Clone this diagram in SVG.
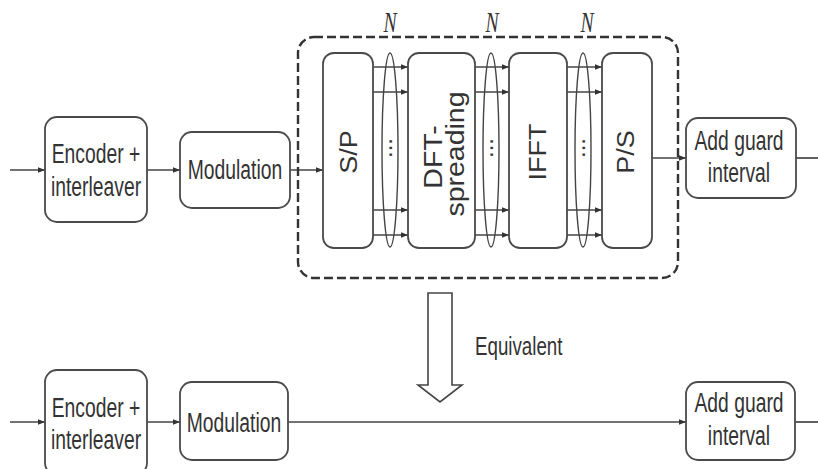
<svg xmlns="http://www.w3.org/2000/svg" width="818" height="469" viewBox="0 0 818 469">
<style>
.box{fill:#fff;stroke:#4a4a4a;stroke-width:1.8}
.lbl{font-family:"Liberation Sans",Arial,sans-serif;font-size:28px;fill:#333;text-anchor:middle}
.rot{font-family:"Liberation Sans",Arial,sans-serif;font-size:27px;fill:#333;text-anchor:middle}
.line{stroke:#444;stroke-width:1.7;fill:none}
.ell{stroke:#444;stroke-width:1.4;fill:none}
.n{font-family:"Liberation Serif","Times New Roman",serif;font-style:italic;font-size:29px;fill:#333;text-anchor:middle}
</style>
<defs>
<marker id="ah" viewBox="0 0 10 10" refX="10" refY="5" markerWidth="7" markerHeight="7" markerUnits="userSpaceOnUse" orient="auto">
<path d="M0,1 L10,5 L0,9 z" fill="#333"/>
</marker>
</defs>
<rect width="818" height="469" fill="#fff"/>
<g id="connectors">
<line class="line" x1="10" y1="170" x2="45" y2="170" marker-end="url(#ah)"/>
<line class="line" x1="147" y1="170" x2="180" y2="170" marker-end="url(#ah)"/>
<line class="line" x1="290" y1="170" x2="323" y2="170" marker-end="url(#ah)"/>
<line class="line" x1="652" y1="158" x2="686" y2="158" marker-end="url(#ah)"/>
<line class="line" x1="796" y1="158" x2="818" y2="158"/>
<g id="parallel">
<line class="line" x1="373" y1="67" x2="408" y2="67" marker-end="url(#ah)"/>
<line class="line" x1="373" y1="92" x2="408" y2="92" marker-end="url(#ah)"/>
<line class="line" x1="373" y1="210" x2="408" y2="210" marker-end="url(#ah)"/>
<line class="line" x1="373" y1="235" x2="408" y2="235" marker-end="url(#ah)"/>
<line class="line" x1="475" y1="67" x2="509" y2="67" marker-end="url(#ah)"/>
<line class="line" x1="475" y1="92" x2="509" y2="92" marker-end="url(#ah)"/>
<line class="line" x1="475" y1="210" x2="509" y2="210" marker-end="url(#ah)"/>
<line class="line" x1="475" y1="235" x2="509" y2="235" marker-end="url(#ah)"/>
<line class="line" x1="567" y1="67" x2="602" y2="67" marker-end="url(#ah)"/>
<line class="line" x1="567" y1="92" x2="602" y2="92" marker-end="url(#ah)"/>
<line class="line" x1="567" y1="210" x2="602" y2="210" marker-end="url(#ah)"/>
<line class="line" x1="567" y1="235" x2="602" y2="235" marker-end="url(#ah)"/>
</g>
<line class="line" x1="10" y1="422" x2="45" y2="422" marker-end="url(#ah)"/>
<line class="line" x1="147" y1="422" x2="180" y2="422" marker-end="url(#ah)"/>
<line class="line" x1="288" y1="422" x2="686" y2="422" marker-end="url(#ah)"/>
<line class="line" x1="795" y1="422" x2="818" y2="422"/>
</g>
<g id="dft-block">
<rect x="298" y="37" width="380" height="241" rx="16" fill="none" stroke="#333" stroke-width="2.4" stroke-dasharray="9,4"/>
</g>
<g id="encoder1"><rect class="box" x="45" y="117" width="102" height="105" rx="12"/>
<text class="lbl" transform="translate(96,163) scale(0.69,1)">Encoder +</text>
<text class="lbl" transform="translate(96,196) scale(0.69,1)">interleaver</text></g>
<g id="modulation1"><rect class="box" x="180" y="132" width="110" height="76" rx="12"/>
<text class="lbl" transform="translate(235,179) scale(0.69,1)">Modulation</text></g>
<g id="sp"><rect class="box" x="323" y="53" width="50" height="195" rx="11"/>
<text class="rot" transform="translate(357,152) rotate(-90) scale(1,0.88)">S/P</text></g>
<g id="dft"><rect class="box" x="408" y="53" width="67" height="195" rx="11"/>
<text class="rot" style="font-size:28.5px" transform="translate(442,157) rotate(-90) scale(1,0.88)">DFT-</text>
<text class="rot" style="font-size:28.5px" transform="translate(464,154) rotate(-90) scale(1,0.88)">spreading</text></g>
<g id="ifft"><rect class="box" x="509" y="53" width="58" height="195" rx="11"/>
<text class="rot" transform="translate(546,152) rotate(-90) scale(1,0.88)">IFFT</text></g>
<g id="ps"><rect class="box" x="602" y="53" width="50" height="195" rx="11"/>
<text class="rot" transform="translate(634,152) rotate(-90) scale(1,0.88)">P/S</text></g>
<g id="bundles">
<ellipse class="ell" cx="390" cy="150" rx="8" ry="97"/>
<ellipse class="ell" cx="491" cy="150" rx="8" ry="97"/>
<ellipse class="ell" cx="583" cy="150" rx="8" ry="97"/>
<text class="rot" style="font-size:24px" transform="translate(392,148) rotate(-90)">...</text>
<text class="rot" style="font-size:24px" transform="translate(493,148) rotate(-90)">...</text>
<text class="rot" style="font-size:24px" transform="translate(585,148) rotate(-90)">...</text>
<text class="n" transform="translate(390,32) scale(0.68,1)">N</text>
<text class="n" transform="translate(492,32) scale(0.68,1)">N</text>
<text class="n" transform="translate(587,32) scale(0.68,1)">N</text>
</g>
<g id="guard1"><rect class="box" x="686" y="118" width="110" height="80" rx="12"/>
<text class="lbl" transform="translate(739,150) scale(0.69,1)">Add guard</text>
<text class="lbl" transform="translate(739,182) scale(0.69,1)">interval</text></g>
<g id="equivalent">
<path d="M428,293 L452,293 L452,385 L462,385 L440,402 L418,385 L428,385 Z" fill="#fff" stroke="#444" stroke-width="1.6"/>
<text class="lbl" style="text-anchor:start;font-size:25px" transform="translate(475,355) scale(0.75,1)">Equivalent</text>
</g>
<g id="encoder2"><rect class="box" x="45" y="370" width="102" height="105" rx="12"/>
<text class="lbl" transform="translate(96,417) scale(0.69,1)">Encoder +</text>
<text class="lbl" transform="translate(96,449) scale(0.69,1)">interleaver</text></g>
<g id="modulation2"><rect class="box" x="180" y="382" width="108" height="78" rx="12"/>
<text class="lbl" transform="translate(234,432) scale(0.69,1)">Modulation</text></g>
<g id="guard2"><rect class="box" x="686" y="382" width="109" height="78" rx="12"/>
<text class="lbl" transform="translate(739,412) scale(0.69,1)">Add guard</text>
<text class="lbl" transform="translate(739,445) scale(0.69,1)">interval</text></g>
</svg>
